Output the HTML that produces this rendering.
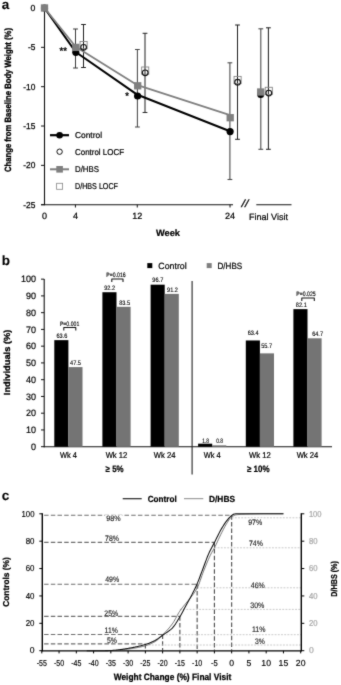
<!DOCTYPE html>
<html><head><meta charset="utf-8"><title>Figure</title>
<style>
html,body{margin:0;padding:0;background:#fff;}
body{width:341px;height:685px;overflow:hidden;}
svg{display:block;text-rendering:geometricPrecision;font-family:'Liberation Sans', sans-serif;}
</style></head>
<body>
<svg width="341" height="685" viewBox="0 0 341 685" font-family='"Liberation Sans", sans-serif'>
<defs><filter id="soft" x="0" y="0" width="341" height="685" filterUnits="userSpaceOnUse" color-interpolation-filters="sRGB"><feConvolveMatrix order="3" kernelMatrix="0.02 0.08 0.02 0.08 0.6 0.08 0.02 0.08 0.02" edgeMode="duplicate" preserveAlpha="true"/></filter></defs>
<g filter="url(#soft)">
<rect width="341" height="685" fill="#fff"/>
<g id="chart-a">
<text x="1.70" y="9.03" font-size="13.5" text-anchor="start" fill="#000" font-weight="bold" stroke="#000" stroke-width="0.1" >a</text>
<line x1="44.50" y1="7.50" x2="44.50" y2="205.20" stroke="#111" stroke-width="1.1"/>
<line x1="41.00" y1="204.70" x2="233.00" y2="204.70" stroke="#111" stroke-width="1.1"/>
<line x1="41.00" y1="8.00" x2="44.50" y2="8.00" stroke="#111" stroke-width="1"/>
<text x="35.40" y="11.11" font-size="8.7" text-anchor="end" fill="#000" stroke="#000" stroke-width="0.25" >0</text>
<line x1="41.00" y1="47.34" x2="44.50" y2="47.34" stroke="#111" stroke-width="1"/>
<text x="35.40" y="50.45" font-size="8.7" text-anchor="end" fill="#000" stroke="#000" stroke-width="0.25" textLength="7.4" lengthAdjust="spacingAndGlyphs" >-5</text>
<line x1="41.00" y1="86.68" x2="44.50" y2="86.68" stroke="#111" stroke-width="1"/>
<text x="35.40" y="89.79" font-size="8.7" text-anchor="end" fill="#000" stroke="#000" stroke-width="0.25" textLength="12.1" lengthAdjust="spacingAndGlyphs" >-10</text>
<line x1="41.00" y1="126.02" x2="44.50" y2="126.02" stroke="#111" stroke-width="1"/>
<text x="35.40" y="129.13" font-size="8.7" text-anchor="end" fill="#000" stroke="#000" stroke-width="0.25" textLength="12.1" lengthAdjust="spacingAndGlyphs" >-15</text>
<line x1="41.00" y1="165.36" x2="44.50" y2="165.36" stroke="#111" stroke-width="1"/>
<text x="35.40" y="168.47" font-size="8.7" text-anchor="end" fill="#000" stroke="#000" stroke-width="0.25" textLength="12.1" lengthAdjust="spacingAndGlyphs" >-20</text>
<line x1="41.00" y1="204.70" x2="44.50" y2="204.70" stroke="#111" stroke-width="1"/>
<text x="35.40" y="207.81" font-size="8.7" text-anchor="end" fill="#000" stroke="#000" stroke-width="0.25" textLength="12.1" lengthAdjust="spacingAndGlyphs" >-25</text>
<line x1="75.42" y1="204.70" x2="75.42" y2="207.50" stroke="#111" stroke-width="1"/>
<line x1="137.26" y1="204.70" x2="137.26" y2="207.50" stroke="#111" stroke-width="1"/>
<line x1="230.02" y1="204.70" x2="230.02" y2="207.50" stroke="#111" stroke-width="1"/>
<line x1="256.30" y1="204.70" x2="291.50" y2="204.70" stroke="#111" stroke-width="1.1"/>
<text x="245.00" y="206.76" font-size="10.5" text-anchor="middle" fill="#000" font-style="italic" stroke="#000" stroke-width="0.22" textLength="6.8" lengthAdjust="spacingAndGlyphs" >//</text>
<text x="44.50" y="219.42" font-size="9" text-anchor="middle" fill="#000" stroke="#000" stroke-width="0.22" >0</text>
<text x="75.42" y="219.42" font-size="9" text-anchor="middle" fill="#000" stroke="#000" stroke-width="0.22" >4</text>
<text x="137.26" y="219.42" font-size="9" text-anchor="middle" fill="#000" stroke="#000" stroke-width="0.22" >12</text>
<text x="230.02" y="219.42" font-size="9" text-anchor="middle" fill="#000" stroke="#000" stroke-width="0.22" >24</text>
<text x="268.50" y="219.82" font-size="9" text-anchor="middle" fill="#000" stroke="#000" stroke-width="0.22" textLength="39" lengthAdjust="spacingAndGlyphs" >Final Visit</text>
<text x="168.00" y="235.59" font-size="9.2" text-anchor="middle" fill="#000" font-weight="bold" stroke="#000" stroke-width="0.22" textLength="24" lengthAdjust="spacingAndGlyphs" >Week</text>
<text transform="translate(8.20 100.00) rotate(-90)" x="0" y="3.22" font-size="9" text-anchor="middle" fill="#000" font-weight="bold" stroke="#000" stroke-width="0.35" textLength="144" lengthAdjust="spacingAndGlyphs" >Change from Baseline Body Weight (%)</text>
<line x1="75.50" y1="29.00" x2="75.50" y2="68.00" stroke="#3c3c3c" stroke-width="1.05"/>
<line x1="73.10" y1="29.00" x2="77.90" y2="29.00" stroke="#3c3c3c" stroke-width="1.05"/>
<line x1="73.10" y1="68.00" x2="77.90" y2="68.00" stroke="#3c3c3c" stroke-width="1.05"/>
<line x1="83.50" y1="24.50" x2="83.50" y2="67.50" stroke="#222" stroke-width="1.05"/>
<line x1="81.10" y1="24.50" x2="85.90" y2="24.50" stroke="#222" stroke-width="1.05"/>
<line x1="81.10" y1="67.50" x2="85.90" y2="67.50" stroke="#222" stroke-width="1.05"/>
<line x1="137.40" y1="49.50" x2="137.40" y2="127.00" stroke="#484848" stroke-width="1.05"/>
<line x1="135.00" y1="49.50" x2="139.80" y2="49.50" stroke="#484848" stroke-width="1.05"/>
<line x1="135.00" y1="127.00" x2="139.80" y2="127.00" stroke="#484848" stroke-width="1.05"/>
<line x1="145.00" y1="33.30" x2="145.00" y2="112.50" stroke="#2a2a2a" stroke-width="1.05"/>
<line x1="142.60" y1="33.30" x2="147.40" y2="33.30" stroke="#2a2a2a" stroke-width="1.05"/>
<line x1="142.60" y1="112.50" x2="147.40" y2="112.50" stroke="#2a2a2a" stroke-width="1.05"/>
<line x1="229.90" y1="62.80" x2="229.90" y2="179.50" stroke="#4c4c4c" stroke-width="1.1"/>
<line x1="227.50" y1="62.80" x2="232.30" y2="62.80" stroke="#4c4c4c" stroke-width="1.1"/>
<line x1="227.50" y1="179.50" x2="232.30" y2="179.50" stroke="#4c4c4c" stroke-width="1.1"/>
<line x1="237.50" y1="25.00" x2="237.50" y2="139.30" stroke="#222" stroke-width="1.05"/>
<line x1="235.10" y1="25.00" x2="239.90" y2="25.00" stroke="#222" stroke-width="1.05"/>
<line x1="235.10" y1="139.30" x2="239.90" y2="139.30" stroke="#222" stroke-width="1.05"/>
<line x1="260.80" y1="28.80" x2="260.80" y2="149.30" stroke="#4c4c4c" stroke-width="1.1"/>
<line x1="258.40" y1="28.80" x2="263.20" y2="28.80" stroke="#4c4c4c" stroke-width="1.1"/>
<line x1="258.40" y1="149.30" x2="263.20" y2="149.30" stroke="#4c4c4c" stroke-width="1.1"/>
<line x1="268.40" y1="27.80" x2="268.40" y2="149.30" stroke="#222" stroke-width="1.05"/>
<line x1="266.00" y1="27.80" x2="270.80" y2="27.80" stroke="#222" stroke-width="1.05"/>
<line x1="266.00" y1="149.30" x2="270.80" y2="149.30" stroke="#222" stroke-width="1.05"/>
<polyline fill="none" stroke="#000" stroke-width="2.1" stroke-linejoin="round" points="44.5,8 75.7,52 137.5,94.8 230,131.2"/>
<polyline fill="none" stroke="#7f7f7f" stroke-width="1.8" stroke-linejoin="round" points="44.5,8 75.7,46.8 137.5,85.2 230,115.1"/>
<circle cx="44.50" cy="8.00" r="3.60" fill="#000"/>
<circle cx="75.80" cy="52.30" r="3.60" fill="#000"/>
<circle cx="137.60" cy="96.00" r="3.60" fill="#000"/>
<circle cx="230.10" cy="131.60" r="3.60" fill="#000"/>
<circle cx="260.70" cy="94.40" r="3.50" fill="#000"/>
<rect x="40.85" y="4.35" width="7.30" height="7.30" fill="#7f7f7f"/>
<rect x="72.15" y="43.75" width="7.30" height="7.30" fill="#7f7f7f"/>
<rect x="134.05" y="82.15" width="7.30" height="7.30" fill="#7f7f7f"/>
<rect x="226.55" y="114.05" width="7.30" height="7.30" fill="#7f7f7f"/>
<rect x="257.05" y="88.35" width="7.30" height="7.30" fill="#7f7f7f"/>
<rect x="80.05" y="41.50" width="7.10" height="7.20" fill="none" stroke="#858585" stroke-width="0.9"/>
<circle cx="83.60" cy="47.30" r="2.85" fill="none" stroke="#111" stroke-width="1.15"/>
<rect x="141.65" y="67.00" width="7.10" height="7.20" fill="none" stroke="#858585" stroke-width="0.9"/>
<circle cx="145.20" cy="72.80" r="2.85" fill="none" stroke="#111" stroke-width="1.15"/>
<rect x="234.05" y="76.40" width="7.10" height="7.20" fill="none" stroke="#858585" stroke-width="0.9"/>
<circle cx="237.60" cy="82.20" r="2.85" fill="none" stroke="#111" stroke-width="1.15"/>
<rect x="265.25" y="87.30" width="7.10" height="7.20" fill="none" stroke="#858585" stroke-width="0.9"/>
<circle cx="268.80" cy="93.10" r="2.85" fill="none" stroke="#111" stroke-width="1.15"/>
<text x="63.30" y="54.30" font-size="9.5" text-anchor="middle" fill="#000" stroke="#000" stroke-width="0.35" textLength="7.6" lengthAdjust="spacingAndGlyphs" >**</text>
<text x="127.10" y="98.60" font-size="9.5" text-anchor="middle" fill="#000" stroke="#000" stroke-width="0.35" >*</text>
<line x1="50.00" y1="135.20" x2="69.00" y2="135.20" stroke="#000" stroke-width="2.2"/>
<circle cx="59.60" cy="135.20" r="3.30" fill="#000"/>
<text x="75.00" y="138.24" font-size="8.5" text-anchor="start" fill="#000" stroke="#000" stroke-width="0.22" textLength="27" lengthAdjust="spacingAndGlyphs" >Control</text>
<circle cx="59.60" cy="151.70" r="2.70" fill="#fff" stroke="#111" stroke-width="1"/>
<text x="75.00" y="154.74" font-size="8.5" text-anchor="start" fill="#000" stroke="#000" stroke-width="0.22" textLength="49" lengthAdjust="spacingAndGlyphs" >Control LOCF</text>
<line x1="50.00" y1="169.30" x2="69.00" y2="169.30" stroke="#7f7f7f" stroke-width="2"/>
<rect x="56.30" y="166.00" width="6.60" height="6.60" fill="#7f7f7f"/>
<text x="75.00" y="172.34" font-size="8.5" text-anchor="start" fill="#000" stroke="#000" stroke-width="0.22" textLength="24" lengthAdjust="spacingAndGlyphs" >D/HBS</text>
<rect x="56.60" y="183.30" width="6.00" height="6.00" fill="#fff" stroke="#888" stroke-width="0.8"/>
<text x="75.00" y="189.34" font-size="8.5" text-anchor="start" fill="#000" stroke="#000" stroke-width="0.22" textLength="43" lengthAdjust="spacingAndGlyphs" >D/HBS LOCF</text>
</g>
<g id="chart-b">
<text x="1.80" y="264.53" font-size="13.5" text-anchor="start" fill="#000" font-weight="bold" stroke="#000" stroke-width="0.1" >b</text>
<line x1="44.20" y1="279.00" x2="44.20" y2="447.20" stroke="#111" stroke-width="1.1"/>
<line x1="43.70" y1="446.70" x2="332.00" y2="446.70" stroke="#111" stroke-width="1.1"/>
<line x1="41.00" y1="446.70" x2="44.20" y2="446.70" stroke="#111" stroke-width="1"/>
<text x="36.00" y="449.93" font-size="9.3" text-anchor="end" fill="#000" stroke="#000" stroke-width="0.2" textLength="5.0" lengthAdjust="spacingAndGlyphs" >0</text>
<line x1="41.00" y1="429.94" x2="44.20" y2="429.94" stroke="#111" stroke-width="1"/>
<text x="36.00" y="433.17" font-size="9.3" text-anchor="end" fill="#000" stroke="#000" stroke-width="0.2" textLength="10.0" lengthAdjust="spacingAndGlyphs" >10</text>
<line x1="41.00" y1="413.19" x2="44.20" y2="413.19" stroke="#111" stroke-width="1"/>
<text x="36.00" y="416.42" font-size="9.3" text-anchor="end" fill="#000" stroke="#000" stroke-width="0.2" textLength="10.0" lengthAdjust="spacingAndGlyphs" >20</text>
<line x1="41.00" y1="396.44" x2="44.20" y2="396.44" stroke="#111" stroke-width="1"/>
<text x="36.00" y="399.66" font-size="9.3" text-anchor="end" fill="#000" stroke="#000" stroke-width="0.2" textLength="10.0" lengthAdjust="spacingAndGlyphs" >30</text>
<line x1="41.00" y1="379.68" x2="44.20" y2="379.68" stroke="#111" stroke-width="1"/>
<text x="36.00" y="382.91" font-size="9.3" text-anchor="end" fill="#000" stroke="#000" stroke-width="0.2" textLength="10.0" lengthAdjust="spacingAndGlyphs" >40</text>
<line x1="41.00" y1="362.92" x2="44.20" y2="362.92" stroke="#111" stroke-width="1"/>
<text x="36.00" y="366.15" font-size="9.3" text-anchor="end" fill="#000" stroke="#000" stroke-width="0.2" textLength="10.0" lengthAdjust="spacingAndGlyphs" >50</text>
<line x1="41.00" y1="346.17" x2="44.20" y2="346.17" stroke="#111" stroke-width="1"/>
<text x="36.00" y="349.40" font-size="9.3" text-anchor="end" fill="#000" stroke="#000" stroke-width="0.2" textLength="10.0" lengthAdjust="spacingAndGlyphs" >60</text>
<line x1="41.00" y1="329.41" x2="44.20" y2="329.41" stroke="#111" stroke-width="1"/>
<text x="36.00" y="332.64" font-size="9.3" text-anchor="end" fill="#000" stroke="#000" stroke-width="0.2" textLength="10.0" lengthAdjust="spacingAndGlyphs" >70</text>
<line x1="41.00" y1="312.66" x2="44.20" y2="312.66" stroke="#111" stroke-width="1"/>
<text x="36.00" y="315.89" font-size="9.3" text-anchor="end" fill="#000" stroke="#000" stroke-width="0.2" textLength="10.0" lengthAdjust="spacingAndGlyphs" >80</text>
<line x1="41.00" y1="295.90" x2="44.20" y2="295.90" stroke="#111" stroke-width="1"/>
<text x="36.00" y="299.13" font-size="9.3" text-anchor="end" fill="#000" stroke="#000" stroke-width="0.2" textLength="10.0" lengthAdjust="spacingAndGlyphs" >90</text>
<line x1="41.00" y1="279.15" x2="44.20" y2="279.15" stroke="#111" stroke-width="1"/>
<text x="36.00" y="282.38" font-size="9.3" text-anchor="end" fill="#000" stroke="#000" stroke-width="0.2" textLength="15.0" lengthAdjust="spacingAndGlyphs" >100</text>
<text transform="translate(6.40 362.40) rotate(-90)" x="0" y="3.15" font-size="8.8" text-anchor="middle" fill="#000" font-weight="bold" stroke="#000" stroke-width="0.3" textLength="65.5" lengthAdjust="spacingAndGlyphs" >Individuals (%)</text>
<line x1="192.10" y1="281.00" x2="192.10" y2="474.50" stroke="#222" stroke-width="1.1"/>
<rect x="147.30" y="263.10" width="5.00" height="5.00" fill="#000"/>
<text x="158.30" y="268.82" font-size="9" text-anchor="start" fill="#000" stroke="#000" stroke-width="0.22" textLength="28.4" lengthAdjust="spacingAndGlyphs" >Control</text>
<rect x="206.70" y="263.10" width="5.00" height="5.00" fill="#7f7f7f"/>
<text x="217.50" y="268.82" font-size="9" text-anchor="start" fill="#000" stroke="#000" stroke-width="0.22" textLength="24.7" lengthAdjust="spacingAndGlyphs" >D/HBS</text>
<rect x="54.30" y="340.14" width="14.10" height="106.56" fill="#000"/>
<rect x="68.40" y="367.11" width="14.10" height="79.59" fill="#747474"/>
<text x="68.40" y="458.21" font-size="8.4" text-anchor="middle" fill="#000" stroke="#000" stroke-width="0.22" textLength="17" lengthAdjust="spacingAndGlyphs" >Wk 4</text>
<rect x="102.40" y="292.22" width="14.10" height="154.48" fill="#000"/>
<rect x="116.50" y="306.80" width="14.10" height="139.90" fill="#747474"/>
<text x="116.50" y="458.21" font-size="8.4" text-anchor="middle" fill="#000" stroke="#000" stroke-width="0.22" textLength="21.7" lengthAdjust="spacingAndGlyphs" >Wk 12</text>
<rect x="150.60" y="284.68" width="14.10" height="162.02" fill="#000"/>
<rect x="164.70" y="293.89" width="14.10" height="152.81" fill="#747474"/>
<text x="164.70" y="458.21" font-size="8.4" text-anchor="middle" fill="#000" stroke="#000" stroke-width="0.22" textLength="21.7" lengthAdjust="spacingAndGlyphs" >Wk 24</text>
<rect x="198.10" y="443.68" width="14.10" height="3.02" fill="#000"/>
<rect x="212.20" y="445.36" width="14.10" height="1.34" fill="#747474"/>
<text x="212.20" y="458.21" font-size="8.4" text-anchor="middle" fill="#000" stroke="#000" stroke-width="0.22" textLength="17" lengthAdjust="spacingAndGlyphs" >Wk 4</text>
<rect x="245.80" y="340.47" width="14.10" height="106.23" fill="#000"/>
<rect x="259.90" y="353.37" width="14.10" height="93.33" fill="#747474"/>
<text x="259.90" y="458.21" font-size="8.4" text-anchor="middle" fill="#000" stroke="#000" stroke-width="0.22" textLength="21.7" lengthAdjust="spacingAndGlyphs" >Wk 12</text>
<rect x="293.40" y="309.14" width="14.10" height="137.56" fill="#000"/>
<rect x="307.50" y="338.30" width="14.10" height="108.40" fill="#747474"/>
<text x="307.50" y="458.21" font-size="8.4" text-anchor="middle" fill="#000" stroke="#000" stroke-width="0.22" textLength="21.7" lengthAdjust="spacingAndGlyphs" >Wk 24</text>
<text x="114.60" y="472.09" font-size="9.2" text-anchor="middle" fill="#000" font-weight="bold" stroke="#000" stroke-width="0.22" textLength="18" lengthAdjust="spacingAndGlyphs" >≥ 5%</text>
<text x="258.20" y="472.49" font-size="9.2" text-anchor="middle" fill="#000" font-weight="bold" stroke="#000" stroke-width="0.22" textLength="22.6" lengthAdjust="spacingAndGlyphs" >≥ 10%</text>
<text x="61.90" y="338.03" font-size="6.5" text-anchor="middle" fill="#000" stroke="#000" stroke-width="0.12" textLength="10.9" lengthAdjust="spacingAndGlyphs" >63.6</text>
<text x="75.50" y="364.84" font-size="6.5" text-anchor="middle" fill="#000" stroke="#000" stroke-width="0.12" textLength="10.9" lengthAdjust="spacingAndGlyphs" >47.5</text>
<text x="109.60" y="290.03" font-size="6.5" text-anchor="middle" fill="#000" stroke="#000" stroke-width="0.12" textLength="10.9" lengthAdjust="spacingAndGlyphs" >92.2</text>
<text x="124.60" y="304.53" font-size="6.5" text-anchor="middle" fill="#000" stroke="#000" stroke-width="0.12" textLength="10.9" lengthAdjust="spacingAndGlyphs" >83.5</text>
<text x="157.80" y="282.33" font-size="6.5" text-anchor="middle" fill="#000" stroke="#000" stroke-width="0.12" textLength="10.9" lengthAdjust="spacingAndGlyphs" >96.7</text>
<text x="172.50" y="292.03" font-size="6.5" text-anchor="middle" fill="#000" stroke="#000" stroke-width="0.12" textLength="10.9" lengthAdjust="spacingAndGlyphs" >91.2</text>
<text x="205.60" y="442.53" font-size="6.5" text-anchor="middle" fill="#000" stroke="#000" stroke-width="0.12" textLength="6.9" lengthAdjust="spacingAndGlyphs" >1.8</text>
<text x="219.60" y="443.03" font-size="6.5" text-anchor="middle" fill="#000" stroke="#000" stroke-width="0.12" textLength="6.9" lengthAdjust="spacingAndGlyphs" >0.8</text>
<text x="253.10" y="335.23" font-size="6.5" text-anchor="middle" fill="#000" stroke="#000" stroke-width="0.12" textLength="10.9" lengthAdjust="spacingAndGlyphs" >63.4</text>
<text x="266.60" y="348.23" font-size="6.5" text-anchor="middle" fill="#000" stroke="#000" stroke-width="0.12" textLength="10.9" lengthAdjust="spacingAndGlyphs" >55.7</text>
<text x="301.30" y="307.33" font-size="6.5" text-anchor="middle" fill="#000" stroke="#000" stroke-width="0.12" textLength="10.9" lengthAdjust="spacingAndGlyphs" >82.1</text>
<text x="317.60" y="336.13" font-size="6.5" text-anchor="middle" fill="#000" stroke="#000" stroke-width="0.12" textLength="10.9" lengthAdjust="spacingAndGlyphs" >64.7</text>
<text x="69.60" y="325.56" font-size="6.3" text-anchor="middle" fill="#000" stroke="#000" stroke-width="0.14" textLength="19.4" lengthAdjust="spacingAndGlyphs" >P=0.001</text>
<polyline fill="none" stroke="#111" stroke-width="1.05" stroke-linejoin="round" points="63.8,330.40000000000003 63.8,327.40000000000003 75.8,327.40000000000003 75.8,330.40000000000003"/>
<text x="116.00" y="276.76" font-size="6.3" text-anchor="middle" fill="#000" stroke="#000" stroke-width="0.14" textLength="19.4" lengthAdjust="spacingAndGlyphs" >P=0.016</text>
<polyline fill="none" stroke="#111" stroke-width="1.05" stroke-linejoin="round" points="111.8,281.90000000000003 111.8,278.90000000000003 123,278.90000000000003 123,281.90000000000003"/>
<text x="306.00" y="296.26" font-size="6.3" text-anchor="middle" fill="#000" stroke="#000" stroke-width="0.14" textLength="19.4" lengthAdjust="spacingAndGlyphs" >P=0.025</text>
<polyline fill="none" stroke="#111" stroke-width="1.05" stroke-linejoin="round" points="301.8,301.0 301.8,298.0 314.3,298.0 314.3,301.0"/>
</g>
<g id="chart-c">
<text x="1.80" y="499.83" font-size="13.5" text-anchor="start" fill="#000" font-weight="bold" stroke="#000" stroke-width="0.1" >c</text>
<line x1="44.10" y1="515.20" x2="231.66" y2="515.20" stroke="#6e6e6e" stroke-width="1.15" stroke-dasharray="4.5 2.2"/>
<line x1="231.66" y1="515.20" x2="231.66" y2="650.30" stroke="#4a4a4a" stroke-width="1.1" stroke-dasharray="4.5 2.2"/>
<line x1="44.10" y1="542.40" x2="214.40" y2="542.40" stroke="#6e6e6e" stroke-width="1.15" stroke-dasharray="4.5 2.2"/>
<line x1="214.40" y1="542.40" x2="214.40" y2="650.30" stroke="#4a4a4a" stroke-width="1.1" stroke-dasharray="4.5 2.2"/>
<line x1="44.10" y1="584.20" x2="197.14" y2="584.20" stroke="#6e6e6e" stroke-width="1.15" stroke-dasharray="4.5 2.2"/>
<line x1="197.14" y1="584.20" x2="197.14" y2="650.30" stroke="#4a4a4a" stroke-width="1.1" stroke-dasharray="4.5 2.2"/>
<line x1="44.10" y1="616.30" x2="179.88" y2="616.30" stroke="#6e6e6e" stroke-width="1.15" stroke-dasharray="4.5 2.2"/>
<line x1="179.88" y1="616.30" x2="179.88" y2="650.30" stroke="#4a4a4a" stroke-width="1.1" stroke-dasharray="4.5 2.2"/>
<line x1="44.10" y1="634.50" x2="162.62" y2="634.50" stroke="#6e6e6e" stroke-width="1.15" stroke-dasharray="4.5 2.2"/>
<line x1="162.62" y1="634.50" x2="162.62" y2="650.30" stroke="#4a4a4a" stroke-width="1.1" stroke-dasharray="4.5 2.2"/>
<line x1="44.10" y1="643.90" x2="145.36" y2="643.90" stroke="#6e6e6e" stroke-width="1.15" stroke-dasharray="4.5 2.2"/>
<line x1="145.36" y1="643.90" x2="145.36" y2="650.30" stroke="#4a4a4a" stroke-width="1.1" stroke-dasharray="4.5 2.2"/>
<line x1="231.66" y1="517.80" x2="301.30" y2="517.80" stroke="#c4c4c4" stroke-width="0.9" stroke-dasharray="1.9 1.3"/>
<line x1="214.40" y1="547.80" x2="301.30" y2="547.80" stroke="#c4c4c4" stroke-width="0.9" stroke-dasharray="1.9 1.3"/>
<line x1="197.14" y1="587.80" x2="301.30" y2="587.80" stroke="#c4c4c4" stroke-width="0.9" stroke-dasharray="1.9 1.3"/>
<line x1="179.88" y1="609.40" x2="301.30" y2="609.40" stroke="#c4c4c4" stroke-width="0.9" stroke-dasharray="1.9 1.3"/>
<line x1="162.62" y1="634.70" x2="301.30" y2="634.70" stroke="#c4c4c4" stroke-width="0.9" stroke-dasharray="1.9 1.3"/>
<line x1="145.36" y1="645.00" x2="301.30" y2="645.00" stroke="#c4c4c4" stroke-width="0.9" stroke-dasharray="1.9 1.3"/>
<line x1="42.30" y1="513.30" x2="42.30" y2="651.30" stroke="#000" stroke-width="1.4"/>
<line x1="41.80" y1="650.80" x2="301.80" y2="650.80" stroke="#000" stroke-width="1.3"/>
<line x1="301.30" y1="513.30" x2="301.30" y2="651.30" stroke="#000" stroke-width="1.4"/>
<line x1="39.30" y1="650.70" x2="42.30" y2="650.70" stroke="#000" stroke-width="1"/>
<text x="34.50" y="653.48" font-size="8.6" text-anchor="end" fill="#000" stroke="#000" stroke-width="0.15" >0</text>
<line x1="301.30" y1="650.70" x2="304.30" y2="650.70" stroke="#000" stroke-width="1"/>
<text x="308.90" y="653.48" font-size="8.6" text-anchor="start" fill="#a8a8a8" stroke="#a8a8a8" stroke-width="0.22" >0</text>
<line x1="39.30" y1="623.32" x2="42.30" y2="623.32" stroke="#000" stroke-width="1"/>
<text x="34.50" y="626.10" font-size="8.6" text-anchor="end" fill="#000" stroke="#000" stroke-width="0.15" textLength="8.8" lengthAdjust="spacingAndGlyphs" >20</text>
<line x1="301.30" y1="623.32" x2="304.30" y2="623.32" stroke="#000" stroke-width="1"/>
<text x="308.90" y="626.10" font-size="8.6" text-anchor="start" fill="#a8a8a8" stroke="#a8a8a8" stroke-width="0.22" textLength="8.6" lengthAdjust="spacingAndGlyphs" >20</text>
<line x1="39.30" y1="595.94" x2="42.30" y2="595.94" stroke="#000" stroke-width="1"/>
<text x="34.50" y="598.72" font-size="8.6" text-anchor="end" fill="#000" stroke="#000" stroke-width="0.15" textLength="8.8" lengthAdjust="spacingAndGlyphs" >40</text>
<line x1="301.30" y1="595.94" x2="304.30" y2="595.94" stroke="#000" stroke-width="1"/>
<text x="308.90" y="598.72" font-size="8.6" text-anchor="start" fill="#a8a8a8" stroke="#a8a8a8" stroke-width="0.22" textLength="8.6" lengthAdjust="spacingAndGlyphs" >40</text>
<line x1="39.30" y1="568.56" x2="42.30" y2="568.56" stroke="#000" stroke-width="1"/>
<text x="34.50" y="571.34" font-size="8.6" text-anchor="end" fill="#000" stroke="#000" stroke-width="0.15" textLength="8.8" lengthAdjust="spacingAndGlyphs" >60</text>
<line x1="301.30" y1="568.56" x2="304.30" y2="568.56" stroke="#000" stroke-width="1"/>
<text x="308.90" y="571.34" font-size="8.6" text-anchor="start" fill="#a8a8a8" stroke="#a8a8a8" stroke-width="0.22" textLength="8.6" lengthAdjust="spacingAndGlyphs" >60</text>
<line x1="39.30" y1="541.18" x2="42.30" y2="541.18" stroke="#000" stroke-width="1"/>
<text x="34.50" y="543.96" font-size="8.6" text-anchor="end" fill="#000" stroke="#000" stroke-width="0.15" textLength="8.8" lengthAdjust="spacingAndGlyphs" >80</text>
<line x1="301.30" y1="541.18" x2="304.30" y2="541.18" stroke="#000" stroke-width="1"/>
<text x="308.90" y="543.96" font-size="8.6" text-anchor="start" fill="#a8a8a8" stroke="#a8a8a8" stroke-width="0.22" textLength="8.6" lengthAdjust="spacingAndGlyphs" >80</text>
<line x1="39.30" y1="513.80" x2="42.30" y2="513.80" stroke="#000" stroke-width="1"/>
<text x="34.50" y="516.58" font-size="8.6" text-anchor="end" fill="#000" stroke="#000" stroke-width="0.15" textLength="13.0" lengthAdjust="spacingAndGlyphs" >100</text>
<line x1="301.30" y1="513.80" x2="304.30" y2="513.80" stroke="#000" stroke-width="1"/>
<text x="308.90" y="516.58" font-size="8.6" text-anchor="start" fill="#a8a8a8" stroke="#a8a8a8" stroke-width="0.22" textLength="12.7" lengthAdjust="spacingAndGlyphs" >100</text>
<line x1="41.80" y1="650.80" x2="41.80" y2="653.40" stroke="#000" stroke-width="1"/>
<text x="41.80" y="665.51" font-size="8.7" text-anchor="middle" fill="#000" stroke="#000" stroke-width="0.15" textLength="10.2" lengthAdjust="spacingAndGlyphs" >-55</text>
<line x1="59.06" y1="650.80" x2="59.06" y2="653.40" stroke="#000" stroke-width="1"/>
<text x="59.06" y="665.51" font-size="8.7" text-anchor="middle" fill="#000" stroke="#000" stroke-width="0.15" textLength="10.2" lengthAdjust="spacingAndGlyphs" >-50</text>
<line x1="76.32" y1="650.80" x2="76.32" y2="653.40" stroke="#000" stroke-width="1"/>
<text x="76.32" y="665.51" font-size="8.7" text-anchor="middle" fill="#000" stroke="#000" stroke-width="0.15" textLength="10.2" lengthAdjust="spacingAndGlyphs" >-45</text>
<line x1="93.58" y1="650.80" x2="93.58" y2="653.40" stroke="#000" stroke-width="1"/>
<text x="93.58" y="665.51" font-size="8.7" text-anchor="middle" fill="#000" stroke="#000" stroke-width="0.15" textLength="10.2" lengthAdjust="spacingAndGlyphs" >-40</text>
<line x1="110.84" y1="650.80" x2="110.84" y2="653.40" stroke="#000" stroke-width="1"/>
<text x="110.84" y="665.51" font-size="8.7" text-anchor="middle" fill="#000" stroke="#000" stroke-width="0.15" textLength="10.2" lengthAdjust="spacingAndGlyphs" >-35</text>
<line x1="128.10" y1="650.80" x2="128.10" y2="653.40" stroke="#000" stroke-width="1"/>
<text x="128.10" y="665.51" font-size="8.7" text-anchor="middle" fill="#000" stroke="#000" stroke-width="0.15" textLength="10.2" lengthAdjust="spacingAndGlyphs" >-30</text>
<line x1="145.36" y1="650.80" x2="145.36" y2="653.40" stroke="#000" stroke-width="1"/>
<text x="145.36" y="665.51" font-size="8.7" text-anchor="middle" fill="#000" stroke="#000" stroke-width="0.15" textLength="10.2" lengthAdjust="spacingAndGlyphs" >-25</text>
<line x1="162.62" y1="650.80" x2="162.62" y2="653.40" stroke="#000" stroke-width="1"/>
<text x="162.62" y="665.51" font-size="8.7" text-anchor="middle" fill="#000" stroke="#000" stroke-width="0.15" textLength="10.2" lengthAdjust="spacingAndGlyphs" >-20</text>
<line x1="179.88" y1="650.80" x2="179.88" y2="653.40" stroke="#000" stroke-width="1"/>
<text x="179.88" y="665.51" font-size="8.7" text-anchor="middle" fill="#000" stroke="#000" stroke-width="0.15" textLength="10.2" lengthAdjust="spacingAndGlyphs" >-15</text>
<line x1="197.14" y1="650.80" x2="197.14" y2="653.40" stroke="#000" stroke-width="1"/>
<text x="197.14" y="665.51" font-size="8.7" text-anchor="middle" fill="#000" stroke="#000" stroke-width="0.15" textLength="10.2" lengthAdjust="spacingAndGlyphs" >-10</text>
<line x1="214.40" y1="650.80" x2="214.40" y2="653.40" stroke="#000" stroke-width="1"/>
<text x="214.40" y="665.51" font-size="8.7" text-anchor="middle" fill="#000" stroke="#000" stroke-width="0.15" textLength="6.8" lengthAdjust="spacingAndGlyphs" >-5</text>
<line x1="231.66" y1="650.80" x2="231.66" y2="653.40" stroke="#000" stroke-width="1"/>
<text x="231.66" y="665.51" font-size="8.7" text-anchor="middle" fill="#000" stroke="#000" stroke-width="0.15" >0</text>
<line x1="248.92" y1="650.80" x2="248.92" y2="653.40" stroke="#000" stroke-width="1"/>
<text x="248.92" y="665.51" font-size="8.7" text-anchor="middle" fill="#000" stroke="#000" stroke-width="0.15" >5</text>
<line x1="266.18" y1="650.80" x2="266.18" y2="653.40" stroke="#000" stroke-width="1"/>
<text x="266.18" y="665.51" font-size="8.7" text-anchor="middle" fill="#000" stroke="#000" stroke-width="0.15" >10</text>
<line x1="283.44" y1="650.80" x2="283.44" y2="653.40" stroke="#000" stroke-width="1"/>
<text x="283.44" y="665.51" font-size="8.7" text-anchor="middle" fill="#000" stroke="#000" stroke-width="0.15" >15</text>
<line x1="300.70" y1="650.80" x2="300.70" y2="653.40" stroke="#000" stroke-width="1"/>
<text x="300.70" y="665.51" font-size="8.7" text-anchor="middle" fill="#000" stroke="#000" stroke-width="0.15" >20</text>
<text transform="translate(5.80 582.00) rotate(-90)" x="0" y="3.08" font-size="8.6" text-anchor="middle" fill="#000" font-weight="bold" stroke="#000" stroke-width="0.25" textLength="49.5" lengthAdjust="spacingAndGlyphs" >Controls (%)</text>
<text transform="translate(334.20 578.90) rotate(-90)" x="0" y="3.08" font-size="8.6" text-anchor="middle" fill="#000" font-weight="bold" stroke="#000" stroke-width="0.25" textLength="35.5" lengthAdjust="spacingAndGlyphs" >D/HBS (%)</text>
<text x="172.50" y="680.19" font-size="9.2" text-anchor="middle" fill="#000" font-weight="bold" stroke="#000" stroke-width="0.25" textLength="117.5" lengthAdjust="spacingAndGlyphs" >Weight Change (%) Final Visit</text>
<line x1="122.70" y1="498.70" x2="141.70" y2="498.70" stroke="#222" stroke-width="1.2"/>
<text x="147.70" y="501.75" font-size="8.8" text-anchor="start" fill="#000" font-weight="bold" stroke="#000" stroke-width="0.2" textLength="29" lengthAdjust="spacingAndGlyphs" >Control</text>
<line x1="184.00" y1="498.70" x2="203.30" y2="498.70" stroke="#888" stroke-width="1.0"/>
<text x="209.00" y="501.75" font-size="8.8" text-anchor="start" fill="#000" font-weight="bold" stroke="#000" stroke-width="0.2" textLength="26" lengthAdjust="spacingAndGlyphs" >D/HBS</text>
<polyline fill="none" stroke="#555" stroke-width="0.8" stroke-linejoin="round" points="86.68,650.70 87.50,650.70 88.32,650.70 89.15,650.70 89.97,650.70 90.79,650.70 91.62,650.70 92.44,650.69 93.26,650.69 94.09,650.69 94.91,650.69 95.73,650.69 96.56,650.69 97.38,650.68 98.20,650.68 99.03,650.68 99.85,650.67 100.67,650.67 101.50,650.67 102.32,650.66 103.14,650.66 103.96,650.65 104.79,650.65 105.61,650.64 106.43,650.64 107.26,650.63 108.08,650.62 108.90,650.61 109.73,650.59 110.55,650.57 111.37,650.54 112.20,650.51 113.02,650.48 113.84,650.45 114.67,650.41 115.49,650.37 116.31,650.31 117.14,650.26 117.96,650.19 118.78,650.12 119.61,650.04 120.43,649.96 121.25,649.87 122.08,649.78 122.90,649.69 123.72,649.59 124.55,649.49 125.37,649.39 126.19,649.29 127.02,649.19 127.84,649.09 128.66,648.99 129.49,648.88 130.31,648.77 131.13,648.65 131.96,648.53 132.78,648.40 133.60,648.27 134.43,648.14 135.25,648.00 136.07,647.86 136.90,647.71 137.72,647.55 138.54,647.40 139.37,647.24 140.19,647.07 141.01,646.89 141.84,646.70 142.66,646.51 143.48,646.30 144.31,646.08 145.13,645.84 145.95,645.59 146.78,645.32 147.60,645.04 148.42,644.74 149.25,644.42 150.07,644.08 150.89,643.72 151.72,643.35 152.54,642.95 153.36,642.52 154.18,642.08 155.01,641.61 155.83,641.10 156.65,640.51 157.48,639.85 158.30,639.12 159.12,638.34 159.95,637.53 160.77,636.70 161.59,635.86 162.42,635.02 163.24,634.20 164.06,633.37 164.89,632.52 165.71,631.67 166.53,630.80 167.36,629.91 168.18,628.99 169.00,628.05 169.83,627.07 170.65,626.06 171.47,625.01 172.30,623.91 173.12,622.75 173.94,621.45 174.77,620.03 175.59,618.53 176.41,617.00 177.24,615.47 178.06,613.98 178.88,612.56 179.71,611.26 180.53,610.07 181.35,608.95 182.18,607.87 183.00,606.83 183.82,605.81 184.65,604.82 185.47,603.83 186.29,602.84 187.12,601.84 187.94,600.87 188.76,599.92 189.59,598.94 190.41,597.91 191.23,596.85 192.06,595.80 192.88,594.73 193.70,593.61 194.53,592.44 195.35,591.20 196.17,589.86 197.00,588.40 197.82,586.76 198.64,584.83 199.47,582.68 200.29,580.39 201.11,578.03 201.94,575.65 202.76,573.34 203.58,571.17 204.41,569.12 205.23,567.10 206.05,565.08 206.87,563.09 207.70,561.14 208.52,559.24 209.34,557.41 210.17,555.64 210.99,553.96 211.81,552.42 212.64,550.96 213.46,549.54 214.28,548.07 215.11,546.49 215.93,544.83 216.75,543.10 217.58,541.33 218.40,539.54 219.22,537.76 220.05,536.01 220.87,534.31 221.69,532.68 222.52,531.07 223.34,529.48 224.16,527.92 224.99,526.41 225.81,524.96 226.63,523.61 227.46,522.28 228.28,520.94 229.10,519.67 229.93,518.55 230.75,517.65 231.57,517.02 232.40,516.45 233.22,515.94 234.04,515.49 234.87,515.14 235.69,514.88 236.51,514.75 237.34,514.67 238.16,514.60 238.98,514.55 239.81,514.51 240.63,514.47 241.45,514.44 242.28,514.40 243.10,514.37 243.92,514.34 244.75,514.31 245.57,514.28 246.39,514.25 247.22,514.22 248.04,514.19 248.86,514.17 249.69,514.15 250.51,514.12 251.33,514.10 252.16,514.08 252.98,514.06 253.80,514.04 254.63,514.01 255.45,513.99 256.27,513.97 257.10,513.95 257.92,513.93 258.74,513.91 259.56,513.89 260.39,513.87 261.21,513.85 262.03,513.84 262.86,513.82 263.68,513.81 264.50,513.81 265.33,513.80 266.15,513.80 266.97,513.80 267.80,513.80 268.62,513.80 269.44,513.80 270.27,513.80 271.09,513.80 271.91,513.80 272.74,513.80 273.56,513.80 274.38,513.80 275.21,513.80 276.03,513.80 276.85,513.80 277.68,513.80 278.50,513.80 279.32,513.80 280.15,513.80 280.97,513.80 281.79,513.80 282.62,513.80 283.44,513.80"/>
<polyline fill="none" stroke="#111" stroke-width="1.05" stroke-linejoin="round" points="86.68,650.70 87.50,650.70 88.32,650.70 89.15,650.70 89.97,650.70 90.79,650.70 91.62,650.70 92.44,650.70 93.26,650.69 94.09,650.69 94.91,650.69 95.73,650.69 96.56,650.69 97.38,650.68 98.20,650.68 99.03,650.68 99.85,650.67 100.67,650.67 101.50,650.67 102.32,650.66 103.14,650.66 103.96,650.65 104.79,650.65 105.61,650.64 106.43,650.64 107.26,650.63 108.08,650.62 108.90,650.60 109.73,650.57 110.55,650.53 111.37,650.48 112.20,650.43 113.02,650.38 113.84,650.32 114.67,650.26 115.49,650.19 116.31,650.12 117.14,650.03 117.96,649.94 118.78,649.83 119.61,649.72 120.43,649.61 121.25,649.49 122.08,649.36 122.90,649.23 123.72,649.10 124.55,648.96 125.37,648.83 126.19,648.69 127.02,648.55 127.84,648.42 128.66,648.28 129.49,648.14 130.31,647.99 131.13,647.84 131.96,647.68 132.78,647.52 133.60,647.36 134.43,647.19 135.25,647.02 136.07,646.85 136.90,646.67 137.72,646.48 138.54,646.30 139.37,646.11 140.19,645.92 141.01,645.73 141.84,645.52 142.66,645.31 143.48,645.09 144.31,644.86 145.13,644.61 145.95,644.35 146.78,644.07 147.60,643.78 148.42,643.47 149.25,643.15 150.07,642.82 150.89,642.47 151.72,642.10 152.54,641.72 153.36,641.32 154.18,640.91 155.01,640.49 155.83,640.04 156.65,639.55 157.48,639.01 158.30,638.44 159.12,637.84 159.95,637.23 160.77,636.60 161.59,635.99 162.42,635.38 163.24,634.79 164.06,634.22 164.89,633.67 165.71,633.13 166.53,632.58 167.36,632.02 168.18,631.45 169.00,630.85 169.83,630.22 170.65,629.54 171.47,628.82 172.30,628.04 173.12,627.17 173.94,626.18 174.77,625.06 175.59,623.84 176.41,622.55 177.24,621.20 178.06,619.82 178.88,618.42 179.71,617.04 180.53,615.65 181.35,614.19 182.18,612.68 183.00,611.14 183.82,609.58 184.65,608.01 185.47,606.45 186.29,604.91 187.12,603.42 187.94,601.97 188.76,600.53 189.59,599.06 190.41,597.53 191.23,595.96 192.06,594.38 192.88,592.77 193.70,591.13 194.53,589.45 195.35,587.72 196.17,585.93 197.00,584.09 197.82,582.15 198.64,580.09 199.47,577.94 200.29,575.74 201.11,573.53 201.94,571.34 202.76,569.19 203.58,566.99 204.41,564.76 205.23,562.52 206.05,560.31 206.87,558.15 207.70,556.06 208.52,554.09 209.34,552.25 210.17,550.54 210.99,548.93 211.81,547.38 212.64,545.86 213.46,544.33 214.28,542.77 215.11,541.16 215.93,539.50 216.75,537.83 217.58,536.16 218.40,534.50 219.22,532.87 220.05,531.30 220.87,529.79 221.69,528.37 222.52,526.99 223.34,525.65 224.16,524.35 224.99,523.11 225.81,521.94 226.63,520.85 227.46,519.82 228.28,518.82 229.10,517.88 229.93,517.02 230.75,516.27 231.57,515.63 232.40,515.00 233.22,514.44 234.04,514.06 234.87,513.91 235.69,513.85 236.51,513.81 237.34,513.80 238.16,513.80 238.98,513.80 239.81,513.80 240.63,513.80 241.45,513.80 242.28,513.80 243.10,513.80 243.92,513.80 244.75,513.80 245.57,513.80 246.39,513.80 247.22,513.80 248.04,513.80 248.86,513.80 249.69,513.80 250.51,513.80 251.33,513.80 252.16,513.80 252.98,513.80 253.80,513.80 254.63,513.80 255.45,513.80 256.27,513.80 257.10,513.80 257.92,513.80 258.74,513.80 259.56,513.80 260.39,513.80 261.21,513.80 262.03,513.80 262.86,513.80 263.68,513.80 264.50,513.80 265.33,513.80 266.15,513.80 266.97,513.80 267.80,513.80 268.62,513.80 269.44,513.80 270.27,513.80 271.09,513.80 271.91,513.80 272.74,513.80 273.56,513.80 274.38,513.80 275.21,513.80 276.03,513.80 276.85,513.80 277.68,513.80 278.50,513.80 279.32,513.80 280.15,513.80 280.97,513.80 281.79,513.80 282.62,513.80 283.44,513.80"/>
<rect x="105.15" y="514.80" width="16.70" height="7.60" fill="#fff"/>
<text x="113.50" y="521.23" font-size="7.9" text-anchor="middle" fill="#1a1a1a" stroke="#1a1a1a" stroke-width="0.14" textLength="14.3" lengthAdjust="spacingAndGlyphs" >98%</text>
<text x="112.00" y="541.13" font-size="7.9" text-anchor="middle" fill="#1a1a1a" stroke="#1a1a1a" stroke-width="0.14" textLength="13.8" lengthAdjust="spacingAndGlyphs" >78%</text>
<text x="112.20" y="582.43" font-size="7.9" text-anchor="middle" fill="#1a1a1a" stroke="#1a1a1a" stroke-width="0.14" textLength="14.0" lengthAdjust="spacingAndGlyphs" >49%</text>
<text x="111.20" y="615.73" font-size="7.9" text-anchor="middle" fill="#1a1a1a" stroke="#1a1a1a" stroke-width="0.14" textLength="13.8" lengthAdjust="spacingAndGlyphs" >25%</text>
<text x="111.20" y="632.93" font-size="7.9" text-anchor="middle" fill="#1a1a1a" stroke="#1a1a1a" stroke-width="0.14" textLength="13.2" lengthAdjust="spacingAndGlyphs" >11%</text>
<text x="111.90" y="642.53" font-size="7.9" text-anchor="middle" fill="#1a1a1a" stroke="#1a1a1a" stroke-width="0.14" textLength="10.0" lengthAdjust="spacingAndGlyphs" >5%</text>
<rect x="247.00" y="518.40" width="16.40" height="7.60" fill="#fff"/>
<text x="255.20" y="524.83" font-size="7.9" text-anchor="middle" fill="#1a1a1a" stroke="#1a1a1a" stroke-width="0.14" textLength="14.0" lengthAdjust="spacingAndGlyphs" >97%</text>
<text x="255.90" y="545.73" font-size="7.9" text-anchor="middle" fill="#1a1a1a" stroke="#1a1a1a" stroke-width="0.14" textLength="13.8" lengthAdjust="spacingAndGlyphs" >74%</text>
<text x="257.80" y="587.93" font-size="7.9" text-anchor="middle" fill="#1a1a1a" stroke="#1a1a1a" stroke-width="0.14" textLength="14.0" lengthAdjust="spacingAndGlyphs" >46%</text>
<text x="257.30" y="608.23" font-size="7.9" text-anchor="middle" fill="#1a1a1a" stroke="#1a1a1a" stroke-width="0.14" textLength="14.2" lengthAdjust="spacingAndGlyphs" >30%</text>
<text x="258.70" y="632.13" font-size="7.9" text-anchor="middle" fill="#1a1a1a" stroke="#1a1a1a" stroke-width="0.14" textLength="13.5" lengthAdjust="spacingAndGlyphs" >11%</text>
<text x="260.00" y="644.23" font-size="7.9" text-anchor="middle" fill="#1a1a1a" stroke="#1a1a1a" stroke-width="0.14" textLength="9.8" lengthAdjust="spacingAndGlyphs" >3%</text>
</g>
</g>
</svg>
</body></html>
